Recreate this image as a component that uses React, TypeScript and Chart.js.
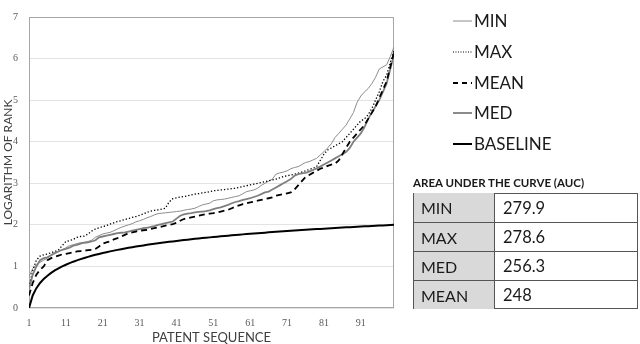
import React, { useEffect, useRef } from "react";
import { Chart, registerables } from "chart.js";

Chart.register(...registerables);

const xTickLabels = [1, 11, 21, 31, 41, 51, 61, 71, 81, 91];
const yTickLabels = [0, 1, 2, 3, 4, 5, 6, 7];

const minSeries = [
  0.75, 0.95, 1.05, 1.1, 1.15, 1.2, 1.28, 1.33, 1.37, 1.4,
  1.45, 1.5, 1.52, 1.55, 1.57, 1.58, 1.6, 1.63, 1.7, 1.74,
  1.78, 1.8, 1.82, 1.86, 1.9, 1.94, 1.97, 2.0, 2.03, 2.07,
  2.1, 2.13, 2.17, 2.2, 2.24, 2.27, 2.28, 2.29, 2.3, 2.31,
  2.32, 2.33, 2.35, 2.37, 2.38, 2.4, 2.44, 2.48, 2.5, 2.52,
  2.58, 2.6, 2.61, 2.62, 2.64, 2.66, 2.68, 2.7, 2.75, 2.8,
  2.82, 2.84, 2.88, 2.95, 3.0, 3.05, 3.1, 3.22, 3.25, 3.27,
  3.3, 3.35, 3.38, 3.4, 3.45, 3.5, 3.52, 3.56, 3.6, 3.68,
  3.76, 3.85, 3.95, 4.1, 4.2, 4.3, 4.4, 4.55, 4.7, 4.95,
  5.1, 5.2, 5.28, 5.4, 5.55, 5.75, 5.8, 5.85, 6.05, 6.28,
];

const maxSeries = [
  0.5, 0.9, 1.15, 1.25, 1.28, 1.3, 1.33, 1.36, 1.4, 1.5,
  1.6, 1.62, 1.65, 1.7, 1.72, 1.73, 1.78, 1.85, 1.9, 1.93,
  1.96, 1.98, 2.02, 2.05, 2.08, 2.1, 2.13, 2.15, 2.18, 2.2,
  2.23, 2.26, 2.3, 2.33, 2.35, 2.36, 2.38, 2.4, 2.55, 2.63,
  2.65, 2.67, 2.68, 2.7, 2.72, 2.74, 2.75, 2.77, 2.78, 2.8,
  2.82, 2.83, 2.84, 2.85, 2.86, 2.87, 2.88, 2.9, 2.92, 2.94,
  2.96, 2.98, 3.0, 3.02, 3.04, 3.06, 3.08, 3.1, 3.13, 3.16,
  3.18, 3.2, 3.22, 3.24, 3.27, 3.3, 3.33, 3.36, 3.4, 3.55,
  3.7, 3.8, 3.85, 3.9, 3.95, 4.0, 4.1, 4.2, 4.3, 4.4,
  4.5, 4.55, 4.65, 4.8, 5.0, 5.2, 5.45, 5.6, 5.9, 6.2,
];

const meanSeries = [
  0.3, 0.6, 0.8, 0.92, 1.0, 1.15, 1.2, 1.23, 1.26, 1.29,
  1.3, 1.32, 1.34, 1.36, 1.37, 1.38, 1.39, 1.4, 1.42, 1.48,
  1.55, 1.58, 1.6, 1.65, 1.68, 1.72, 1.76, 1.8, 1.82, 1.84,
  1.86, 1.87, 1.88, 1.9, 1.92, 1.94, 1.96, 1.98, 2.0, 2.02,
  2.05, 2.1, 2.14, 2.16, 2.18, 2.2, 2.22, 2.24, 2.26, 2.27,
  2.28, 2.3, 2.32, 2.34, 2.36, 2.4, 2.44, 2.47, 2.5, 2.52,
  2.54, 2.56, 2.58, 2.6, 2.62, 2.64, 2.66, 2.7, 2.72, 2.74,
  2.76, 2.78, 2.85, 2.95, 3.05, 3.15, 3.2, 3.25, 3.3, 3.35,
  3.38, 3.42, 3.45, 3.47, 3.55, 3.7, 3.85, 4.0, 4.1, 4.2,
  4.3, 4.4, 4.55, 4.7, 4.85, 5.05, 5.25, 5.45, 5.8, 6.15,
];

const medSeries = [
  0.45, 0.8, 1.0, 1.15, 1.2, 1.22, 1.27, 1.32, 1.36, 1.4,
  1.42, 1.45, 1.5, 1.52, 1.55, 1.57, 1.58, 1.6, 1.63, 1.7,
  1.72, 1.74, 1.76, 1.78, 1.8, 1.81, 1.82, 1.84, 1.86, 1.88,
  1.9, 1.92, 1.93, 1.95, 1.97, 2.0, 2.02, 2.04, 2.06, 2.08,
  2.15, 2.22, 2.25, 2.27, 2.28, 2.3, 2.31, 2.32, 2.33, 2.35,
  2.38, 2.4, 2.42, 2.45, 2.48, 2.52, 2.55, 2.57, 2.6, 2.62,
  2.64, 2.67, 2.7, 2.74, 2.78, 2.8, 2.85, 2.9, 2.95, 3.0,
  3.05, 3.1, 3.18, 3.22, 3.24, 3.25, 3.28, 3.32, 3.36, 3.4,
  3.45, 3.5, 3.55, 3.6, 3.65, 3.7, 3.75, 3.85, 4.0, 4.1,
  4.2, 4.35, 4.55, 4.7, 4.85, 5.0, 5.2, 5.4, 5.75, 6.1,
];

const baselineSeries = [
  0, 0.301, 0.477, 0.602, 0.699, 0.778, 0.845, 0.903, 0.954, 1,
  1.041, 1.079, 1.114, 1.146, 1.176, 1.204, 1.23, 1.255, 1.279, 1.301,
  1.322, 1.342, 1.362, 1.38, 1.398, 1.415, 1.431, 1.447, 1.462, 1.477,
  1.491, 1.505, 1.519, 1.531, 1.544, 1.556, 1.568, 1.58, 1.591, 1.602,
  1.613, 1.623, 1.633, 1.643, 1.653, 1.663, 1.672, 1.681, 1.69, 1.699,
  1.708, 1.716, 1.724, 1.732, 1.74, 1.748, 1.756, 1.763, 1.771, 1.778,
  1.785, 1.792, 1.799, 1.806, 1.813, 1.82, 1.826, 1.833, 1.839, 1.845,
  1.851, 1.857, 1.863, 1.869, 1.875, 1.881, 1.886, 1.892, 1.898, 1.903,
  1.908, 1.914, 1.919, 1.924, 1.929, 1.934, 1.94, 1.944, 1.949, 1.954,
  1.959, 1.964, 1.968, 1.973, 1.978, 1.982, 1.987, 1.991, 1.996, 2,
];

const sequence = minSeries.map((_, i) => i + 1);

const aucLabels = ["MIN", "MAX", "MED", "MEAN"];
const aucValues = ["279.9", "278.6", "256.3", "248"];

const toPoints = (arr: number[]) => arr.map((v, i) => ({ x: sequence[i], y: v }));

const legendItems = [
  { label: "MIN", color: "#8c8c8c", width: 1, dash: "" },
  { label: "MAX", color: "#000", width: 1.2, dash: "1 1.5" },
  { label: "MEAN", color: "#000", width: 1.8, dash: "5 4" },
  { label: "MED", color: "#7f7f7f", width: 1.8, dash: "" },
  { label: "BASELINE", color: "#000", width: 2, dash: "" },
];

const boxPlugin = {
  id: "boxBorder",
  beforeDatasetsDraw(chart: any) {
    const { ctx, chartArea } = chart;
    const l = Math.round(chartArea.left) + 0.5;
    const t = Math.round(chartArea.top) + 0.5;
    const r = Math.round(chartArea.right) - 0.5;
    const b = Math.round(chartArea.bottom) - 0.5;
    ctx.save();
    ctx.strokeStyle = "#a6a6a6";
    ctx.lineWidth = 1;
    ctx.strokeRect(l, t, r - l, b - t);
    ctx.restore();
  },
};

export default function App() {
  const canvasRef = useRef<HTMLCanvasElement | null>(null);

  useEffect(() => {
    const canvas = canvasRef.current;
    if (!canvas) return;
    const chart = new Chart(canvas, {
      type: "line",
      data: {
        datasets: [
          {
            label: "BASELINE",
            data: toPoints(baselineSeries),
            borderColor: "#000",
            borderWidth: 2,
            pointRadius: 0,
            tension: 0,
          },
          {
            label: "MEAN",
            data: toPoints(meanSeries),
            borderColor: "#000",
            borderWidth: 1.8,
            borderDash: [6, 4],
            pointRadius: 0,
          },
          {
            label: "MED",
            data: toPoints(medSeries),
            borderColor: "#7f7f7f",
            borderWidth: 1.8,
            pointRadius: 0,
          },
          {
            label: "MAX",
            data: toPoints(maxSeries),
            borderColor: "#000",
            borderWidth: 1.3,
            borderDash: [1.3, 2],
            pointRadius: 0,
          },
          {
            label: "MIN",
            data: toPoints(minSeries),
            borderColor: "#8c8c8c",
            borderWidth: 1,
            pointRadius: 0,
          },
        ],
      },
      options: {
        animation: false,
        responsive: false,
        layout: { padding: { top: 3, right: 246, left: 0, bottom: 0 } },
        plugins: {
          legend: { display: false },
          tooltip: { enabled: false },
        },
        scales: {
          x: {
            type: "linear",
            min: 1,
            max: 100,
            afterBuildTicks: (scale: any) => {
              scale.ticks = xTickLabels.map((v) => ({ value: v }));
            },
            afterFit: (scale: any) => {
              scale.height = 36;
            },
            grid: { display: false, drawTicks: false },
            border: { display: false },
            ticks: {
              color: "#595959",
              padding: 9,
              maxRotation: 0,
              autoSkip: false,
              font: { family: "'Liberation Serif', serif", size: 10 },
            },
            title: {
              display: true,
              text: "PATENT SEQUENCE",
              color: "#404040",
              padding: { top: 0, bottom: 0 },
              font: { family: "Lato, sans-serif", size: 13, lineHeight: 1 },
            },
          },
          y: {
            type: "linear",
            min: 0,
            max: 7,
            afterBuildTicks: (scale: any) => {
              scale.ticks = yTickLabels.map((v) => ({ value: v }));
            },
            afterFit: (scale: any) => {
              scale.width = 29;
            },
            grid: { color: "#e3e3e3", drawTicks: false, lineWidth: 1 },
            border: { display: false },
            ticks: {
              color: "#595959",
              padding: 11,
              font: { family: "'Liberation Serif', serif", size: 10 },
            },
            title: {
              display: true,
              text: "LOGARITHM OF RANK",
              color: "#404040",
              padding: { top: 1, bottom: 0 },
              font: { family: "Lato, sans-serif", size: 12, lineHeight: 1.2 },
            },
          },
        },
      },
      plugins: [boxPlugin],
    } as any);
    return () => chart.destroy();
  }, []);

  const rowH = 29;
  return (
    <div
      style={{
        position: "absolute",
        left: 0,
        top: 0,
        width: 640,
        height: 344,
        background: "#fff",
        overflow: "hidden",
        fontFamily: "Lato, sans-serif",
      }}
    >
      <canvas ref={canvasRef} width={640} height={344} style={{ position: "absolute", left: 0, top: 0 }} />
      {legendItems.map((it, i) => (
        <div
          key={it.label}
          style={{
            position: "absolute",
            left: 453,
            top: 21 + i * 30.8 - 10,
            height: 20,
            display: "flex",
            alignItems: "center",
            color: "#1a1a1a",
            fontSize: 17,
          }}
        >
          <svg width={21} height={20} style={{ display: "block" }}>
            <line
              x1={0}
              y1={10}
              x2={19}
              y2={10}
              stroke={it.color}
              strokeWidth={it.width}
              strokeDasharray={it.dash || undefined}
            />
          </svg>
          <span style={{ lineHeight: "20px" }}>{it.label}</span>
        </div>
      ))}
      <div
        style={{
          position: "absolute",
          left: 413,
          top: 176,
          fontSize: 11.5,
          fontWeight: 700,
          color: "#1a1a1a",
          whiteSpace: "nowrap",
        }}
      >
        AREA UNDER THE CURVE (AUC)
      </div>
      <div
        style={{
          position: "absolute",
          left: 413,
          top: 193,
          width: 225,
          height: rowH * 4,
          border: "1px solid #555",
          boxSizing: "border-box",
        }}
      >
        {aucLabels.map((lab, i) => (
          <div
            key={lab}
            style={{
              position: "absolute",
              left: 0,
              top: i * rowH - 1,
              width: 223,
              height: rowH,
              borderTop: i === 0 ? "none" : "1px solid #555",
              boxSizing: "border-box",
              display: "flex",
            }}
          >
            <div
              style={{
                width: 81,
                height: "100%",
                background: "#d9d9d9",
                borderRight: "1px solid #555",
                boxSizing: "border-box",
                display: "flex",
                alignItems: "center",
                paddingLeft: 7,
                fontSize: 16,
                color: "#1a1a1a",
              }}
            >
              {lab}
            </div>
            <div
              style={{
                flex: 1,
                display: "flex",
                alignItems: "center",
                paddingLeft: 8,
                fontSize: 16.5,
                color: "#1a1a1a",
              }}
            >
              {aucValues[i]}
            </div>
          </div>
        ))}
      </div>
    </div>
  );
}
